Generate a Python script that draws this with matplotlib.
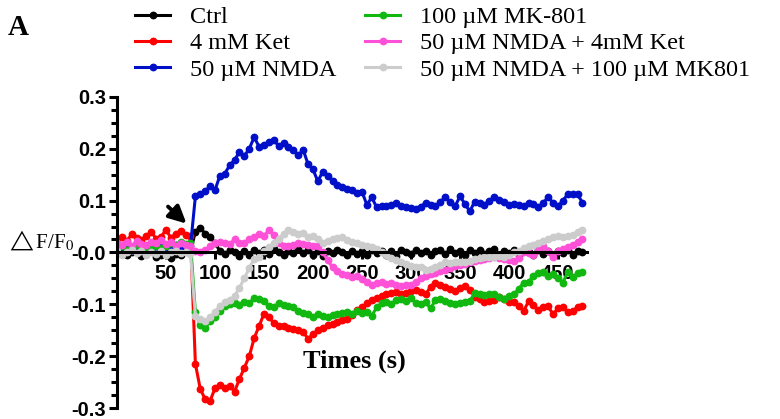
import numpy as np
import matplotlib.pyplot as plt
from matplotlib.ticker import MultipleLocator

plt.rcParams['mathtext.fontset'] = 'stix'

# sampling times (s)
time_s = np.arange(0, 480, 5)

labels = ["Ctrl", "4 mM Ket", "50 \u00b5M NMDA",
          "100 \u00b5M MK-801", "50 \u00b5M NMDA + 4mM Ket",
          "50 \u00b5M NMDA + 100 \u00b5M MK801"]
colors = ["#000000", "#ff0000", "#0010c8", "#10b810", "#ff50d8", "#cccccc"]

ctrl = [-0.002, 0.003, -0.004, 0.000, 0.002, -0.006, -0.003, 0.002, -0.008, -0.004,
        0.000, -0.010, -0.003, -0.005, 0.002, 0.002, 0.040, 0.048, 0.036, 0.030,
        0.018, 0.003, -0.003, 0.004, 0.000, -0.006, 0.002, -0.004, 0.005, -0.002,
        0.004, -0.003, 0.006, 0.000, -0.005, 0.003, -0.002, 0.007, -0.001, 0.004,
        -0.004, 0.002, -0.006, 0.003, -0.002, 0.005, 0.000, -0.004, 0.003, -0.003,
        0.002, -0.005, 0.004, -0.002, 0.003, -0.004, 0.002, -0.006, 0.004, 0.000,
        -0.003, 0.005, -0.002, 0.003, -0.005, 0.002, 0.004, -0.003, 0.006, -0.002,
        0.003, -0.004, 0.005, -0.002, 0.004, -0.003, 0.002, 0.006, -0.004, 0.003,
        -0.002, 0.004, -0.005, 0.003, 0.000, -0.004, 0.005, -0.003, 0.002, -0.005,
        0.003, -0.002, 0.004, -0.004, 0.002, 0.000]

ket = [0.025, 0.030, 0.022, 0.035, 0.028, 0.024, 0.032, 0.040, 0.026, 0.030,
       0.044, 0.028, 0.036, 0.042, 0.034, 0.032, -0.215, -0.263, -0.283, -0.286,
       -0.262, -0.255, -0.262, -0.258, -0.268, -0.244, -0.222, -0.200, -0.165, -0.142,
       -0.118, -0.125, -0.136, -0.142, -0.141, -0.146, -0.148, -0.149, -0.154, -0.166,
       -0.158, -0.150, -0.146, -0.140, -0.137, -0.134, -0.130, -0.128, -0.120, -0.110,
       -0.106, -0.098, -0.092, -0.088, -0.084, -0.080, -0.078, -0.077, -0.081, -0.079,
       -0.074, -0.072, -0.077, -0.081, -0.066, -0.058, -0.062, -0.067, -0.071, -0.075,
       -0.068, -0.065, -0.072, -0.085, -0.090, -0.096, -0.094, -0.092, -0.085, -0.090,
       -0.096, -0.096, -0.104, -0.113, -0.094, -0.102, -0.110, -0.106, -0.104, -0.119,
       -0.108, -0.106, -0.115, -0.112, -0.106, -0.104]

nmda = [0.010, 0.012, 0.008, 0.005, 0.010, 0.003, 0.000, 0.006, 0.010, 0.012,
        0.008, 0.010, 0.014, 0.010, 0.012, 0.012, 0.108, 0.112, 0.118, 0.128,
        0.120, 0.148, 0.152, 0.168, 0.178, 0.194, 0.186, 0.200, 0.222, 0.204,
        0.208, 0.212, 0.217, 0.205, 0.211, 0.203, 0.198, 0.187, 0.198, 0.170,
        0.160, 0.137, 0.156, 0.147, 0.138, 0.130, 0.126, 0.123, 0.120, 0.115,
        0.117, 0.092, 0.106, 0.087, 0.090, 0.089, 0.092, 0.096, 0.090, 0.087,
        0.085, 0.083, 0.088, 0.096, 0.092, 0.089, 0.098, 0.106, 0.098, 0.089,
        0.108, 0.094, 0.079, 0.098, 0.095, 0.092, 0.100, 0.106, 0.102, 0.098,
        0.092, 0.094, 0.092, 0.089, 0.096, 0.093, 0.087, 0.096, 0.106, 0.096,
        0.089, 0.100, 0.112, 0.113, 0.112, 0.096]

mk801 = [0.008, 0.012, 0.005, 0.010, 0.014, 0.006, 0.010, 0.015, 0.012, 0.008,
         0.012, 0.018, 0.015, 0.020, 0.016, 0.018, -0.115, -0.140, -0.146, -0.132,
         -0.124, -0.112, -0.104, -0.100, -0.098, -0.102, -0.095, -0.098, -0.088, -0.090,
         -0.094, -0.104, -0.106, -0.097, -0.102, -0.104, -0.106, -0.112, -0.116, -0.119,
         -0.124, -0.119, -0.123, -0.125, -0.121, -0.119, -0.116, -0.115, -0.119, -0.113,
         -0.116, -0.114, -0.122, -0.106, -0.098, -0.096, -0.100, -0.092, -0.090, -0.094,
         -0.088, -0.098, -0.100, -0.096, -0.108, -0.092, -0.090, -0.094, -0.098, -0.100,
         -0.097, -0.096, -0.094, -0.078, -0.080, -0.082, -0.080, -0.081, -0.086, -0.090,
         -0.084, -0.081, -0.070, -0.058, -0.056, -0.046, -0.040, -0.038, -0.046, -0.042,
         -0.050, -0.058, -0.038, -0.048, -0.040, -0.038]

nmda_ket = [0.018, 0.015, 0.020, 0.012, 0.022, 0.016, 0.014, 0.020, 0.018, 0.024,
            0.016, 0.020, 0.012, 0.018, 0.015, 0.012, 0.002, 0.000, 0.004, 0.012,
            0.019, 0.021, 0.019, 0.016, 0.025, 0.019, 0.018, 0.025, 0.030, 0.035,
            0.031, 0.044, 0.034, 0.019, 0.012, 0.012, 0.015, 0.019, 0.016, 0.015,
            0.013, 0.012, 0.000, -0.015, -0.029, -0.036, -0.042, -0.044, -0.047, -0.046,
            -0.052, -0.056, -0.062, -0.058, -0.056, -0.060, -0.058, -0.062, -0.065, -0.063,
            -0.062, -0.056, -0.050, -0.046, -0.042, -0.040, -0.036, -0.033, -0.030, -0.027,
            -0.025, -0.022, -0.019, -0.017, -0.015, -0.013, -0.010, -0.008, -0.011, -0.013,
            -0.015, -0.017, -0.010, 0.000, -0.002, -0.004, 0.004, 0.012, 0.002, -0.008,
            0.002, 0.006, 0.010, 0.014, 0.021, 0.026]

nmda_mk801 = [0.002, -0.004, 0.000, 0.004, -0.002, 0.003, -0.005, 0.001, -0.003, 0.002,
              -0.004, 0.000, 0.003, -0.002, 0.001, -0.003, -0.122, -0.128, -0.133, -0.125,
              -0.114, -0.104, -0.096, -0.092, -0.084, -0.068, -0.050, -0.030, -0.012, -0.008,
              0.002, 0.010, 0.018, 0.026, 0.036, 0.044, 0.040, 0.035, 0.038, 0.030,
              0.031, 0.026, 0.019, 0.022, 0.025, 0.027, 0.029, 0.024, 0.021, 0.018,
              0.014, 0.012, 0.010, 0.006, 0.000, -0.004, -0.010, -0.014, -0.019, -0.022,
              -0.027, -0.028, -0.029, -0.033, -0.031, -0.029, -0.024, -0.019, -0.021, -0.019,
              -0.018, -0.019, -0.016, -0.013, -0.011, -0.008, -0.009, -0.008, -0.006, -0.008,
              -0.004, 0.000, 0.002, 0.008, 0.012, 0.014, 0.019, 0.022, 0.026, 0.029,
              0.031, 0.030, 0.031, 0.034, 0.040, 0.044]

series = [ctrl, ket, nmda, mk801, nmda_ket, nmda_mk801]

ytick_vals = [-0.3, -0.2, -0.1, 0.0, 0.1, 0.2, 0.3]
ytick_text = ["-0.3", "-0.2", "-0.1", "-0.0", "0.1", "0.2", "0.3"]
xtick_vals = [50, 100, 150, 200, 250, 300, 350, 400, 450]

fig = plt.figure(figsize=(7.8, 4.19), dpi=100)
ax = fig.add_axes([0.150, 0.026, 0.603, 0.743])

for vals, col, lab in zip(series, colors, labels):
    ax.plot(time_s, vals, '-o', color=col, lw=2.2, ms=4.6, mec=col, label=lab)

ax.set_xlim(0, 480)
ax.set_ylim(-0.3, 0.3)

# axes: left spine + x axis through zero
ax.spines['top'].set_visible(False)
ax.spines['right'].set_visible(False)
ax.spines['bottom'].set_position(('data', 0))
ax.spines['left'].set_linewidth(2.2)
ax.spines['bottom'].set_linewidth(2.2)

ax.set_yticks(ytick_vals)
ax.set_yticklabels(ytick_text)
ax.yaxis.set_minor_locator(MultipleLocator(0.025))
ax.set_xticks(xtick_vals)
ax.tick_params(axis='y', which='major', length=6, width=2.2, direction='out', pad=2)
ax.tick_params(axis='y', which='minor', length=4, width=2.2, direction='out')
ax.tick_params(axis='x', which='major', length=5, width=2.2, direction='out', pad=3)
for t in ax.get_yticklabels():
    t.set_fontfamily('Liberation Sans')
    t.set_fontweight('bold')
    t.set_fontsize(14.5)
for t in ax.get_xticklabels():
    t.set_fontfamily('Liberation Sans')
    t.set_fontweight('bold')
    t.set_fontsize(14.5)

# stimulus arrow
ax.annotate('', xy=(73, 0.052), xytext=(50, 0.092),
            arrowprops=dict(arrowstyle='-|>', color='black', lw=2.8, mutation_scale=26))

ax.text(242, -0.21, "Times (s)", fontfamily='Liberation Serif', fontweight='bold',
        fontsize=19, ha='center', va='center')

fig.text(0.008, 0.425, r"$\mathsf{\triangle}$F/F$_0$", fontfamily='Liberation Serif',
         fontsize=15, ha='left', va='center')

fig.text(0.010, 0.935, "A", fontfamily='Liberation Serif', fontweight='bold',
         fontsize=21, ha='left', va='center')

fig.legend(loc='upper left', bbox_to_anchor=(135 / 780, 0.985), ncol=2, frameon=False,
           borderpad=0, borderaxespad=0, prop={'family': 'Liberation Serif', 'size': 17.5},
           handlelength=1.45, handletextpad=0.8, labelspacing=0.17,
           columnspacing=1.2)

fig.savefig('out.png', dpi=100)
